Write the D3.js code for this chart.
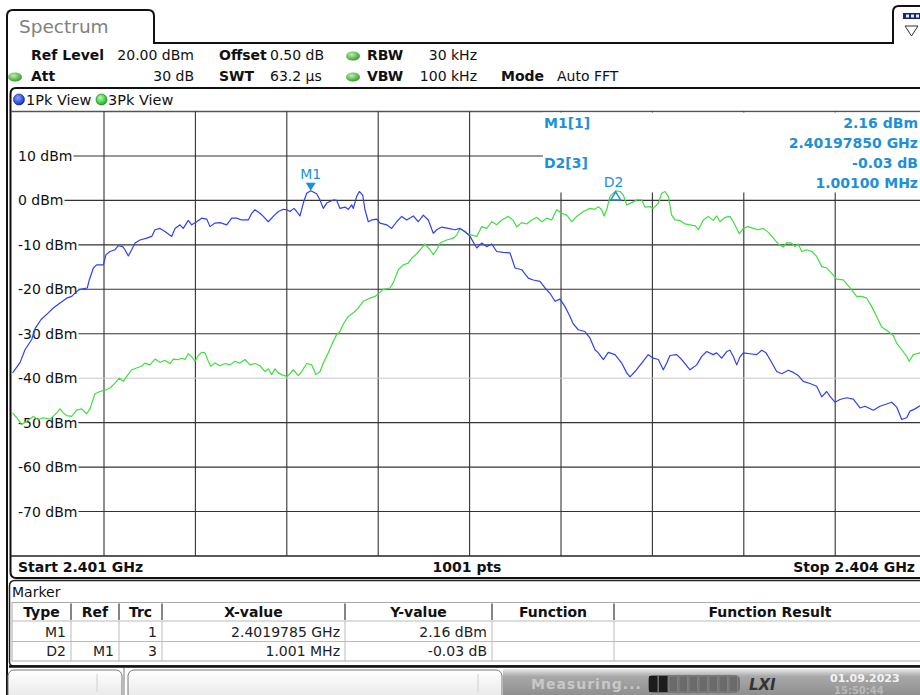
<!DOCTYPE html>
<html><head><meta charset="utf-8">
<script src="https://cdn.jsdelivr.net/npm/d3@7"></script>
<style>
body{margin:0;background:#fff;}
svg{display:block;font-family:"DejaVu Sans",Verdana,sans-serif;}
</style>
</head><body>
<svg id="chart" width="920" height="695"></svg>
<script>
// ---------------- data ----------------
const startGHz = 2.401, stopGHz = 2.404;
const refLevel = 20, bottomLevel = -80;
const yTickValues = [10, 0, -10, -20, -30, -40, -50, -60, -70];
const yTickLabels = ["10 dBm", "0 dBm", "-10 dBm", "-20 dBm", "-30 dBm", "-40 dBm", "-50 dBm", "-60 dBm", "-70 dBm"];
const displayLineLevel = -40;

// Trace 1 (1Pk View, blue): frequency offset from start in MHz, level in dBm
const trace1Offset = [
0.000,0.0243,0.0407,0.0627,0.0741,0.0935,0.1172,0.1336,0.1556,0.1776,
0.1940,0.2104,0.2212,0.2452,0.2518,0.2649,0.2760,0.2977,0.3066,0.3197,
0.3361,0.3469,0.3614,0.3689,0.3798,0.3909,0.4018,0.4182,0.4402,0.4566,
0.4674,0.4838,0.5002,0.5222,0.5330,0.5495,0.5603,0.5767,0.5879,0.6043,
0.6207,0.6371,0.6479,0.6643,0.6807,0.7027,0.7191,0.7356,0.7520,0.7736,
0.7848,0.7956,0.8120,0.8229,0.8393,0.8557,0.8721,0.8885,0.8997,0.9105,
0.9236,0.9325,0.9433,0.9542,0.9653,0.9785,0.9981,1.0090,1.0198,1.0310,
1.0526,1.0638,1.0746,1.0910,1.1019,1.1130,1.1183,1.1294,1.1380,1.1491,
1.1567,1.1675,1.1787,1.1951,1.2059,1.2279,1.2443,1.2607,1.2772,1.2936,
1.3152,1.3316,1.3480,1.3644,1.3808,1.3920,1.4084,1.4301,1.4521,1.4685,
1.4849,1.5013,1.5233,1.5397,1.5561,1.5725,1.5889,1.6106,1.6326,1.6490,
1.6710,1.6927,1.7091,1.7311,1.7475,1.7639,1.7803,1.7967,1.8131,1.8295,
1.8404,1.8568,1.8787,1.8952,1.9116,1.9224,1.9389,1.9553,1.9773,1.9992,
2.0157,2.0265,2.0429,2.0649,2.0865,2.1030,2.1194,2.1358,2.1470,2.1578,
2.1798,2.1962,2.2234,2.2454,2.2618,2.2782,2.2999,2.3110,2.3275,2.3439,
2.3547,2.3656,2.3767,2.3875,2.3984,2.4203,2.4423,2.4588,2.4729,2.4860,
2.5080,2.5244,2.5461,2.5625,2.5789,2.5953,2.6173,2.6393,2.6557,2.6721,
2.6829,2.6993,2.7158,2.7378,2.7594,2.7814,2.7978,2.8250,2.8470,2.8855,
2.9018,2.9183,2.9347,2.9455,2.9620,2.9784,3.0000];
const trace1Level = [
-38.8,-36.5,-33.6,-31.3,-28.8,-26.8,-25.3,-24.2,-23.1,-22.0,
-21.6,-20.5,-20.0,-19.7,-17.9,-15.2,-14.5,-14.5,-12.2,-11.5,
-11.1,-10.2,-10.4,-11.1,-12.5,-11.1,-9.6,-8.9,-8.5,-8.1,
-6.6,-6.3,-7.0,-8.1,-6.3,-5.5,-6.3,-4.5,-5.5,-4.8,
-4.0,-4.2,-5.9,-5.1,-5.0,-5.5,-4.0,-4.0,-4.4,-4.4,
-2.9,-2.1,-2.9,-3.6,-4.8,-3.6,-2.5,-2.0,-2.1,-2.5,
-1.8,-2.5,-3.5,-0.6,1.6,2.16,1.5,0.1,-1.8,-0.6,
0.1,0.0,-1.8,-1.5,-2.0,-1.0,-1.8,0.9,2.0,1.2,
-2.1,-4.8,-4.4,-4.2,-5.1,-5.5,-6.3,-4.8,-3.6,-4.4,
-3.5,-4.8,-3.3,-4.4,-7.4,-6.6,-6.0,-6.3,-6.6,-6.3,
-7.0,-8.1,-10.7,-9.6,-10.4,-9.8,-11.5,-11.7,-11.8,-15.2,
-15.6,-17.5,-17.9,-18.2,-19.7,-20.9,-22.7,-22.2,-23.9,-26.1,
-27.8,-29.1,-29.5,-31.0,-33.6,-34.3,-35.8,-34.2,-34.7,-36.6,
-38.8,-39.7,-38.5,-36.6,-34.7,-35.5,-35.8,-38.1,-36.6,-34.9,
-34.7,-35.8,-38.1,-37.0,-35.1,-34.0,-34.7,-34.3,-35.5,-34.0,
-33.7,-35.1,-37.0,-35.2,-34.3,-34.5,-34.7,-33.7,-34.3,-35.8,
-38.5,-39.0,-38.2,-38.7,-39.4,-40.7,-41.2,-41.8,-44.2,-43.0,
-44.1,-45.4,-44.8,-44.4,-44.7,-46.7,-46.3,-47.2,-46.3,-45.4,
-46.5,-49.3,-48.9,-47.4,-46.9,-46.2,-45.5];

// Trace 3 (3Pk View, green)
const trace3Offset = [
0.000,0.0135,0.0299,0.0463,0.0679,0.0844,0.1008,0.1228,0.1392,0.1556,
0.1664,0.1776,0.1940,0.2104,0.2268,0.2432,0.2540,0.2705,0.2869,0.3033,
0.3197,0.3361,0.3502,0.3633,0.3745,0.3909,0.4073,0.4237,0.4346,0.4510,
0.4674,0.4838,0.5002,0.5166,0.5275,0.5439,0.5550,0.5659,0.5767,0.5879,
0.5987,0.6095,0.6207,0.6315,0.6423,0.6502,0.6643,0.6807,0.6972,0.7136,
0.7300,0.7464,0.7628,0.7792,0.7956,0.8120,0.8284,0.8393,0.8504,0.8613,
0.8721,0.8833,0.8997,0.9105,0.9213,0.9377,0.9489,0.9653,0.9817,0.9958,
1.0090,1.0198,1.0362,1.0526,1.0638,1.0746,1.0855,1.1019,1.1183,1.1347,
1.1511,1.1731,1.1895,1.2059,1.2168,1.2387,1.2496,1.2660,1.2824,1.2988,
1.3100,1.3264,1.3428,1.3536,1.3700,1.3808,1.3920,1.4029,1.4249,1.4465,
1.4577,1.4685,1.4905,1.5069,1.5233,1.5397,1.5561,1.5725,1.5889,1.6054,
1.6270,1.6434,1.6546,1.6710,1.6874,1.7038,1.7203,1.7367,1.7531,1.7695,
1.7859,1.8023,1.8187,1.8351,1.8515,1.8732,1.8952,1.9116,1.9224,1.9336,
1.9411,1.9500,1.9608,1.9795,1.9936,2.0045,2.0157,2.0321,2.0485,2.0649,
2.0757,2.0921,2.1030,2.1194,2.1305,2.1414,2.1522,2.1634,2.1742,2.1906,
2.2070,2.2234,2.2398,2.2507,2.2671,2.2835,2.2999,2.3110,2.3219,2.3383,
2.3547,2.3656,2.3767,2.3852,2.3984,2.4148,2.4312,2.4476,2.4640,2.4804,
2.4969,2.5133,2.5297,2.5408,2.5572,2.5680,2.5789,2.5900,2.6064,2.6229,
2.6393,2.6557,2.6721,2.6885,2.7049,2.7266,2.7486,2.7705,2.7870,2.8034,
2.8198,2.8362,2.8526,2.8743,2.8907,2.9018,2.9183,2.9347,2.9432,2.9564,
2.9784,3.0000];
const trace3Level = [
-47.8,-48.9,-50.4,-49.7,-48.6,-49.3,-48.9,-49.2,-48.2,-46.9,
-47.8,-48.4,-48.6,-47.2,-46.9,-48.0,-46.9,-43.5,-43.0,-42.7,
-42.2,-41.1,-40.0,-40.7,-39.6,-38.1,-37.7,-37.3,-36.6,-37.0,
-35.7,-36.4,-36.0,-36.7,-35.7,-35.8,-35.5,-35.8,-34.5,-35.2,
-36.2,-34.9,-34.2,-34.3,-36.2,-37.3,-36.6,-37.2,-36.7,-37.0,
-36.2,-36.6,-35.8,-37.0,-36.7,-37.2,-38.5,-37.9,-39.2,-37.9,
-38.8,-39.2,-39.6,-39.0,-38.1,-39.4,-38.5,-36.7,-37.0,-39.2,
-38.5,-36.6,-34.3,-31.7,-30.2,-29.5,-27.8,-26.1,-25.3,-24.2,
-22.7,-22.0,-21.6,-20.7,-20.0,-19.7,-18.5,-15.6,-14.5,-14.1,
-13.0,-12.0,-10.7,-9.8,-11.1,-12.2,-11.1,-9.6,-8.9,-8.5,
-7.8,-6.3,-7.4,-7.8,-8.1,-5.9,-6.3,-4.8,-5.5,-4.4,
-3.6,-4.5,-6.0,-5.0,-5.3,-4.4,-3.8,-4.8,-4.0,-4.4,
-2.1,-2.9,-3.3,-4.8,-3.6,-2.5,-1.8,-2.0,-1.4,-2.1,
-3.5,-2.1,0.9,2.13,2.0,1.2,-1.0,-0.5,0.1,0.1,
-1.5,-1.4,-1.8,-0.6,1.6,2.0,0.9,-3.3,-4.4,-4.5,
-5.3,-5.5,-5.7,-6.6,-4.4,-3.6,-4.5,-3.5,-4.8,-3.8,
-3.6,-4.8,-6.3,-7.5,-6.3,-5.9,-6.3,-6.6,-6.3,-7.2,
-8.5,-9.8,-10.5,-9.5,-9.6,-10.4,-9.8,-11.5,-11.1,-11.5,
-12.6,-14.9,-15.2,-16.4,-17.7,-17.9,-19.7,-21.6,-21.6,-22.0,
-23.9,-26.1,-28.5,-29.5,-30.4,-32.1,-33.6,-35.1,-36.2,-34.7,
-34.3,-34.0];

// Markers
const m1FreqGHz = 2.4019785, m1Level = 2.16;
const d2DeltaMHz = 1.001, d2DeltaDb = -0.03;

// Header settings text
const headerRow1 = [["Ref Level", true], ["20.00 dBm", false], ["Offset", true], ["0.50 dB", false], ["RBW", true], ["30 kHz", false]];
const headerRow2 = [["Att", true], ["30 dB", false], ["SWT", true], ["63.2 µs", false], ["VBW", true], ["100 kHz", false], ["Mode", true], ["Auto FFT", false]];
const tableHeader = ["Type", "Ref", "Trc", "X-value", "Y-value", "Function", "Function Result"];
const tableRows = [
  ["M1", "", "1", "2.4019785 GHz", "2.16 dBm", "", ""],
  ["D2", "M1", "3", "1.001 MHz", "-0.03 dB", "", ""]
];
const markerInfo = [["M1[1]", "2.16 dBm", "2.40197850 GHz"], ["D2[3]", "-0.03 dB", "1.00100 MHz"]];

// ---------------- drawing ----------------
const svg = d3.select("#chart");
const W = 920, H = 695;
const defs = svg.append("defs");

const px0 = 12.6, px1 = 926.6, py0 = 111.5, py1 = 556;
const x = d3.scaleLinear().domain([startGHz, stopGHz]).range([px0, px1]);
const y = d3.scaleLinear().domain([refLevel, bottomLevel]).range([py0, py1]);

// gradients
function radial(id, c0, c1) {
  const g = defs.append("radialGradient").attr("id", id).attr("cx", "40%").attr("cy", "35%").attr("r", "65%");
  g.append("stop").attr("offset", "0%").attr("stop-color", c0);
  g.append("stop").attr("offset", "100%").attr("stop-color", c1);
}
radial("gDot", "#b9f0a8", "#3a9a2e");
radial("bDot", "#8fa0ff", "#1030d0");
radial("g2Dot", "#b0ffb0", "#18b418");
const sb = defs.append("linearGradient").attr("id", "statusGrad").attr("x1", 0).attr("y1", 0).attr("x2", 0).attr("y2", 1);
sb.append("stop").attr("offset", "0%").attr("stop-color", "#e8e8e8");
sb.append("stop").attr("offset", "25%").attr("stop-color", "#a8a8a8");
sb.append("stop").attr("offset", "100%").attr("stop-color", "#8a8a8a");
const lb = defs.append("linearGradient").attr("id", "boxGrad").attr("x1", 0).attr("y1", 0).attr("x2", 0).attr("y2", 1);
lb.append("stop").attr("offset", "0%").attr("stop-color", "#ffffff");
lb.append("stop").attr("offset", "100%").attr("stop-color", "#e4e4e4");

svg.append("rect").attr("width", W).attr("height", H).attr("fill", "#fff");

// ----- Tab & header -----
svg.append("path")
  .attr("d", "M7,700 V16 Q7,10 13,10 H148 Q154,10 154,16 V43 H893 V12 Q893,6 899,6 H930")
  .attr("fill", "none").attr("stroke", "#111").attr("stroke-width", 2);
svg.append("text").attr("x", 19).attr("y", 33).attr("font-size", 18.5).attr("fill", "#808080").text("Spectrum");
// icon in top-right box
svg.append("rect").attr("x", 903).attr("y", 13).attr("width", 17).attr("height", 6).attr("fill", "#1a237e");
[906, 911, 916].forEach(v => svg.append("rect").attr("x", v).attr("y", 14.5).attr("width", 3).attr("height", 3).attr("fill", "#e8eaf6"));
svg.append("path").attr("d", "M905,26 H918 L911.5,36 Z").attr("fill", "none").attr("stroke", "#333").attr("stroke-width", 1);

const hdrX1 = { "Ref Level": 31, "20.00 dBm": [194, "end"], "Offset": 219, "0.50 dB": 270, "RBW": 367, "30 kHz": [477, "end"] };
const hdrX2 = { "Att": 31, "30 dB": [194, "end"], "SWT": 219, "63.2 µs": 270, "VBW": 367, "100 kHz": [477, "end"], "Mode": 501, "Auto FFT": 557 };
function hdr(row, map, yb) {
  row.forEach(([t, b]) => {
    const p = map[t];
    const xx = Array.isArray(p) ? p[0] : p, anc = Array.isArray(p) ? p[1] : "start";
    svg.append("text").attr("x", xx).attr("y", yb).attr("text-anchor", anc)
      .attr("font-size", 14).attr("font-weight", b ? "bold" : "normal").attr("fill", "#111").text(t);
  });
}
hdr(headerRow1, hdrX1, 60);
hdr(headerRow2, hdrX2, 81);
[[353, 56], [15, 77], [353, 77]].forEach(([cx, cy]) =>
  svg.append("ellipse").attr("cx", cx).attr("cy", cy).attr("rx", 7).attr("ry", 4.5).attr("fill", "url(#gDot)"));

// ----- Diagram panel frame -----
svg.append("path").attr("d", "M930,88 H16 Q10.5,88 10.5,94 V572 Q10.5,578 16,578 H930")
  .attr("fill", "none").attr("stroke", "#111").attr("stroke-width", 2);

// legend row
svg.append("circle").attr("cx", 19).attr("cy", 99.5).attr("r", 5.5).attr("fill", "url(#bDot)").attr("stroke", "#0a1a80").attr("stroke-width", 0.6);
svg.append("text").attr("x", 26).attr("y", 104.5).attr("font-size", 14.5).attr("fill", "#111").text("1Pk View");
svg.append("circle").attr("cx", 101.5).attr("cy", 99.5).attr("r", 5.5).attr("fill", "url(#g2Dot)").attr("stroke", "#0a700a").attr("stroke-width", 0.6);
svg.append("text").attr("x", 108).attr("y", 104.5).attr("font-size", 14.5).attr("fill", "#111").text("3Pk View");

// plot area border
svg.append("line").attr("x1", 11).attr("x2", 930).attr("y1", py0).attr("y2", py0).attr("stroke", "#555").attr("stroke-width", 1.5);
svg.append("line").attr("x1", 11).attr("x2", 930).attr("y1", py1).attr("y2", py1).attr("stroke", "#222").attr("stroke-width", 1.5);

const grid = svg.append("g");
// vertical grid
const vTicks = d3.range(1, 10).map(i => startGHz + i * (stopGHz - startGHz) / 10);
grid.selectAll("line.v").data(vTicks).enter().append("line")
  .attr("x1", d => x(d)).attr("x2", d => x(d)).attr("y1", py0).attr("y2", py1)
  .attr("stroke", "#333").attr("stroke-width", 1.1);

// horizontal grid with labels
const labG = svg.append("g");
yTickValues.forEach((v, i) => {
  const t = labG.append("text").attr("x", 18).attr("y", y(v) + 5).attr("font-size", 14).attr("fill", "#111").text(yTickLabels[i]);
  const w = t.node().getComputedTextLength();
  grid.append("line").attr("x1", 18 + w + 1).attr("x2", px1).attr("y1", y(v)).attr("y2", y(v))
    .attr("stroke", v === displayLineLevel ? "#c8c8c8" : "#333").attr("stroke-width", v === displayLineLevel ? 1 : 1.1);
});

// marker info box (covers grid)
svg.append("rect").attr("x", 543).attr("y", py0 + 1).attr("width", 400).attr("height", 80).attr("fill", "#fff");

// traces
const clip = defs.append("clipPath").attr("id", "plotClip");
clip.append("rect").attr("x", 11.5).attr("y", py0).attr("width", px1 - 11.5).attr("height", py1 - py0);
const line = d3.line().x(d => x(startGHz + d[0] / 1000)).y(d => y(d[1]));
const t1 = trace1Offset.map((o, i) => [o, trace1Level[i]]);
const t3 = trace3Offset.map((o, i) => [o, trace3Level[i]]);
const tr = svg.append("g").attr("clip-path", "url(#plotClip)");
tr.append("path").datum(t3).attr("d", line).attr("fill", "none").attr("stroke", "#3ee03e").attr("stroke-width", 1.2).attr("stroke-linejoin", "round");
tr.append("path").datum(t1).attr("d", line).attr("fill", "none").attr("stroke", "#2f40f2").attr("stroke-width", 1.2).attr("stroke-linejoin", "round");

// markers
const mColor = "#1e90d8";
const mx = x(m1FreqGHz), my = y(m1Level);
svg.append("path").attr("d", `M${mx - 5},${my - 8} H${mx + 5} L${mx},${my} Z`).attr("fill", mColor);
svg.append("text").attr("x", mx).attr("y", my - 12).attr("text-anchor", "middle").attr("font-size", 14).attr("fill", mColor).text("M1");
const dx = x(m1FreqGHz + d2DeltaMHz / 1000), dy = y(m1Level + d2DeltaDb);
svg.append("path").attr("d", `M${dx},${dy + 1} L${dx + 5},${dy + 9} H${dx - 5} Z`).attr("fill", "none").attr("stroke", mColor).attr("stroke-width", 1.5);
svg.append("text").attr("x", dx - 2).attr("y", dy - 4).attr("text-anchor", "middle").attr("font-size", 14).attr("fill", mColor).text("D2");

// marker info text
const infoY = [128, 148, 168, 188];
markerInfo.forEach((m, i) => {
  svg.append("text").attr("x", 544).attr("y", infoY[i * 2]).attr("font-size", 14).attr("font-weight", "bold").attr("fill", mColor).text(m[0]);
  svg.append("text").attr("x", 918).attr("y", infoY[i * 2]).attr("text-anchor", "end").attr("font-size", 14).attr("font-weight", "bold").attr("fill", mColor).text(m[1]);
  svg.append("text").attr("x", 918).attr("y", infoY[i * 2 + 1]).attr("text-anchor", "end").attr("font-size", 14).attr("font-weight", "bold").attr("fill", mColor).text(m[2]);
});

// bottom annotation
svg.append("text").attr("x", 18).attr("y", 572).attr("font-size", 14).attr("font-weight", "bold").attr("fill", "#111").text("Start 2.401 GHz");
svg.append("text").attr("x", 467).attr("y", 572).attr("text-anchor", "middle").attr("font-size", 14).attr("font-weight", "bold").attr("fill", "#111").text("1001 pts");
svg.append("text").attr("x", 915).attr("y", 572).attr("text-anchor", "end").attr("font-size", 14).attr("font-weight", "bold").attr("fill", "#111").text("Stop 2.404 GHz");

// ----- Marker table -----
svg.append("path").attr("d", "M930,580.5 H15 Q9.5,580.5 9.5,586 V662 Q9.5,666 14,666 H930")
  .attr("fill", "none").attr("stroke", "#222").attr("stroke-width", 1.5);
svg.append("line").attr("x1", 9).attr("x2", 930).attr("y1", 666.5).attr("y2", 666.5).attr("stroke", "#111").attr("stroke-width", 2.5);
svg.append("text").attr("x", 12).attr("y", 597).attr("font-size", 14).attr("fill", "#111").text("Marker");
const colEdges = [12, 71, 119, 162, 345, 492, 614, 926];
const tblTop = 602.5, hdrBot = 621, r1Bot = 641.5, r2Bot = 661;
svg.append("rect").attr("x", 12).attr("y", tblTop).attr("width", 930).attr("height", r2Bot - tblTop).attr("fill", "#fff").attr("stroke", "#aaa").attr("stroke-width", 1);
[hdrBot, r1Bot].forEach(v => svg.append("line").attr("x1", 12).attr("x2", 930).attr("y1", v).attr("y2", v).attr("stroke", "#bbb"));
colEdges.slice(1, -1).forEach(cx => {
  svg.append("line").attr("x1", cx).attr("x2", cx).attr("y1", tblTop + 1).attr("y2", hdrBot - 1).attr("stroke", "#333").attr("stroke-width", 1.2);
  svg.append("line").attr("x1", cx).attr("x2", cx).attr("y1", hdrBot).attr("y2", r2Bot).attr("stroke", "#bbb");
});
tableHeader.forEach((h, i) => {
  svg.append("text").attr("x", (colEdges[i] + colEdges[i + 1]) / 2).attr("y", 617)
    .attr("text-anchor", "middle").attr("font-size", 14).attr("font-weight", "bold").attr("fill", "#111").text(h);
});
tableRows.forEach((r, ri) => {
  r.forEach((c, ci) => {
    if (!c) return;
    svg.append("text").attr("x", colEdges[ci + 1] - 5).attr("y", 636.5 + ri * 19.5)
      .attr("text-anchor", "end").attr("font-size", 14).attr("fill", "#222").text(c);
  });
});

// ----- Status bar -----
svg.append("rect").attr("x", 8).attr("y", 670).attr("width", 114).attr("height", 32).attr("rx", 6).attr("fill", "url(#boxGrad)").attr("stroke", "#777");
svg.append("line").attr("x1", 97).attr("x2", 97).attr("y1", 674).attr("y2", 692).attr("stroke", "#ddd").attr("stroke-width", 1.5);
svg.append("line").attr("x1", 124).attr("x2", 124).attr("y1", 668).attr("y2", 695).attr("stroke", "#777");
svg.append("rect").attr("x", 128).attr("y", 670).attr("width", 374).attr("height", 32).attr("rx", 6).attr("fill", "url(#boxGrad)").attr("stroke", "#777");
svg.append("line").attr("x1", 478).attr("x2", 478).attr("y1", 674).attr("y2", 692).attr("stroke", "#ddd").attr("stroke-width", 1.5);
svg.append("rect").attr("x", 503).attr("y", 669).attr("width", 420).attr("height", 30).attr("fill", "url(#statusGrad)");
svg.append("text").attr("x", 531).attr("y", 689).attr("font-size", 14).attr("font-weight", "bold").attr("fill", "#c8c8c8").attr("letter-spacing", 1).text("Measuring...");
svg.append("rect").attr("x", 648).attr("y", 675).attr("width", 92).attr("height", 18).attr("rx", 5).attr("fill", "#707070");
d3.range(0, 9).forEach(i => {
  svg.append("rect").attr("x", 649 + i * 10).attr("y", 676).attr("width", 8.5).attr("height", 16)
    .attr("fill", i < 2 ? "#1c1c1c" : "#6a6a6a").attr("stroke", i < 2 ? "none" : "#909090").attr("stroke-width", 0.6);
});
svg.append("text").attr("x", 749).attr("y", 690).attr("font-size", 15).attr("font-style", "italic").attr("font-weight", "bold").attr("fill", "#333").text("LXI");
svg.append("text").attr("x", 830).attr("y", 682).attr("font-size", 11).attr("font-weight", "bold").attr("fill", "#f2f2f2").text("01.09.2023");
svg.append("text").attr("x", 834).attr("y", 694).attr("font-size", 10).attr("font-weight", "bold").attr("fill", "#b8b8b8").text("15:50:44");
</script>
</body></html>
